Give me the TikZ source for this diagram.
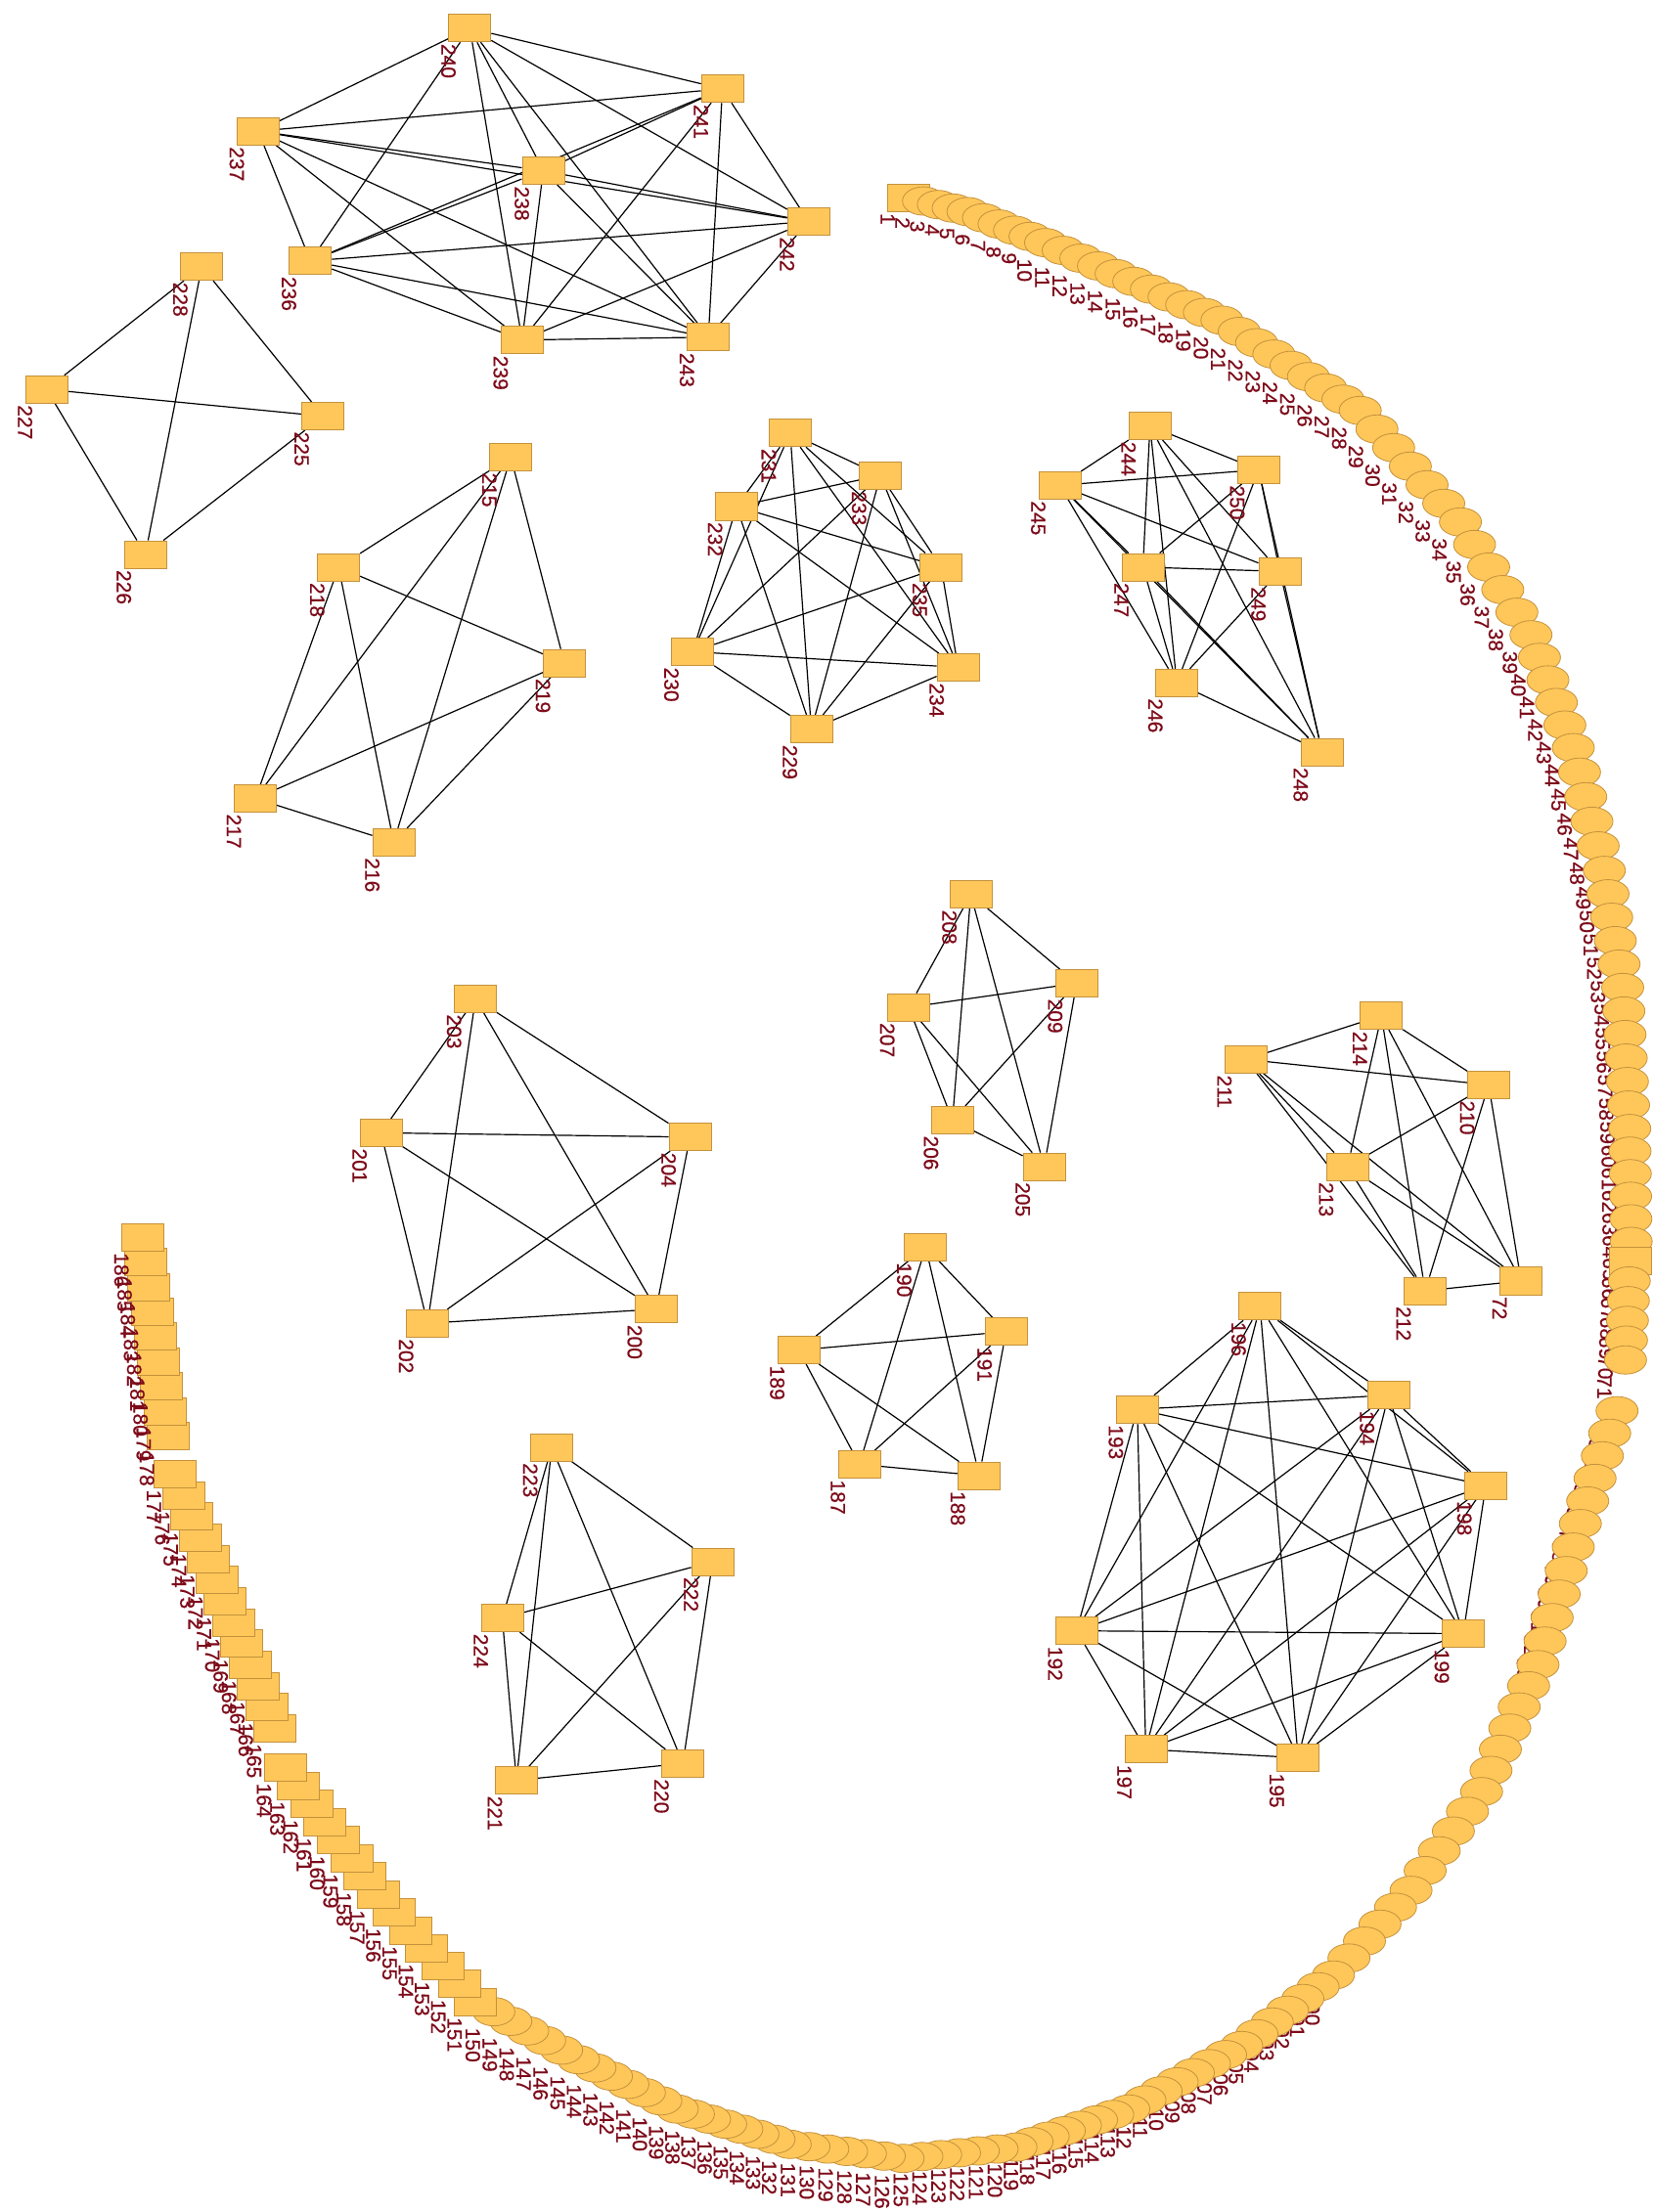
\documentclass[tikz,border=0pt]{standalone}
\usepackage{fontspec}
\newfontfamily\labfont[FakeBold=0.6]{Liberation Sans}
\usetikzlibrary{shapes.geometric}
\pgfdeclarelayer{background}
\pgfsetlayers{background,main}
\definecolor{nodefill}{RGB}{255,199,90}
\definecolor{nodedraw}{RGB}{196,145,60}
\definecolor{labred}{RGB}{125,10,25}
\begin{document}
\begin{tikzpicture}[x=1.4424pt,y=-1.4424pt,
  sqnode/.style={rectangle,draw=nodedraw,fill=nodefill,line width=0.8pt,minimum width=43pt,minimum height=28pt,inner sep=0pt},
  cinode/.style={ellipse,draw=nodedraw,fill=nodefill,line width=0.8pt,minimum width=43pt,minimum height=29pt,inner sep=0pt},
  lab/.style={rotate=-90,anchor=west,inner sep=1.5pt,text=labred,font=\labfont\fontsize{21}{21}\selectfont},
  edge/.style={draw=black,line width=1.2pt}]
\useasboundingbox (0,0) rectangle (1171,1568);

% ---------- cluster nodes ----------
\foreach \n/\x/\y in {
240/333/20, 241/512/63, 237/183/93, 238/385/121, 242/573/157, 236/220/185, 239/370/241, 243/502/239,
228/143/189, 227/33/276, 225/229/295, 226/103/393,
215/362/324, 218/240/402, 219/400/470, 217/181/566, 216/279/597,
231/560/307, 233/624/337, 232/522/359, 235/667/402, 230/491/462, 234/679/473, 229/575/517,
244/815/302, 250/892/333, 245/751/344, 247/810/402, 249/907/405, 246/834/484, 248/937/533,
208/688/634, 209/763/697, 207/644/714, 206/675/794, 205/740/827,
203/337/708, 201/270/803, 204/489/806, 202/303/938, 200/465/928,
214/979/720, 211/883/751, 210/1055/769, 213/955/827, 212/1010/915, 72/1078/908,
190/656/884, 191/713/944, 189/566/957, 187/609/1038, 188/694/1046,
196/893/926, 193/806/999, 194/984/989, 198/1053/1053, 192/763/1156, 199/1037/1158, 197/812/1240, 195/920/1246,
223/391/1026, 222/505/1107, 224/356/1147, 221/366/1262, 220/484/1250}
{
  \node[sqnode] (c\n) at (\x,\y) {};
  \node[lab] (t\n) at (c\n.south west) {\n};
}

% ---------- arc coordinates (piecewise linear) ----------
\foreach \ia/\xa/\ya/\ib/\xb/\yb in {
1/644/140/5/686/150, 5/686/150/10/741/172, 10/741/172/20/866/227,
20/866/227/28/964/291, 28/964/291/34/1035/370, 34/1035/370/39/1085/450,
39/1085/450/44/1115/530, 44/1115/530/49/1137/617, 49/1137/617/54/1150/700,
54/1150/700/60/1155/800, 60/1155/800/65/1156/880, 65/1156/880/71/1152/964,
71/1152/964/73/1146/1000, 73/1146/1000/78/1120/1080, 78/1120/1080/84/1090/1180,
84/1090/1180/90/1050/1270, 90/1050/1270/95/1000/1340, 95/1000/1340/100/945/1400,
100/945/1400/106/880/1450, 106/880/1450/113/800/1495, 113/800/1495/120/720/1522,
120/720/1522/126/640/1530, 126/640/1530/132/560/1520, 132/560/1520/139/480/1495,
139/480/1495/145/410/1460, 145/410/1460/150/350/1426, 150/350/1426/151/337/1419,
151/337/1419/157/268/1343, 157/268/1343/164/202/1253, 164/202/1253/165/195/1225,
165/195/1225/177/124/1045, 177/124/1045/178/119/1018, 178/119/1018/186/101/877}
{
  \pgfmathtruncatemacro\last{\ib-1}
  \foreach \k in {\ia,...,\last} {
    \pgfmathsetmacro\tt{(\k-\ia)/(\ib-\ia)}
    \coordinate (a\k) at ({\xa+(\xb-\xa)*\tt},{\ya+(\yb-\ya)*\tt});
  }
}
\coordinate (a186) at (101,877);

% ---------- arc nodes ----------
\foreach \k in {1,...,186} {
  \ifnum\k=72\relax\else
    \pgfmathtruncatemacro\issq{(\k==1)||(\k==66)||(\k>150)}
    \ifnum\issq=1
      \node[sqnode] (n\k) at (a\k) {};
    \else
      \node[cinode] (n\k) at (a\k) {};
    \fi
    \node[lab] (m\k) at ([xshift=-21.5pt]n\k.south) {\k};
  \fi
}

% ---------- edges (complete graphs) ----------
\begin{pgfonlayer}{background}
\fill[white] (0,0) rectangle (1171,1568);
\foreach \L in {
{240,241,237,238,242,236,239,243},
{228,227,225,226},
{215,218,219,217,216},
{231,233,232,235,230,234,229},
{244,250,245,247,249,246,248},
{208,209,207,206,205},
{203,201,204,202,200},
{214,211,210,213,212,72},
{190,191,189,187,188},
{196,193,194,198,192,199,197,195},
{223,222,224,221,220}}
{
  \foreach \a [count=\i] in \L {
    \foreach \b [count=\j] in \L {
      \ifnum\j>\i \draw[edge] (c\a) -- (c\b); \fi
    }
  }
}
\end{pgfonlayer}
\end{tikzpicture}
\end{document}
